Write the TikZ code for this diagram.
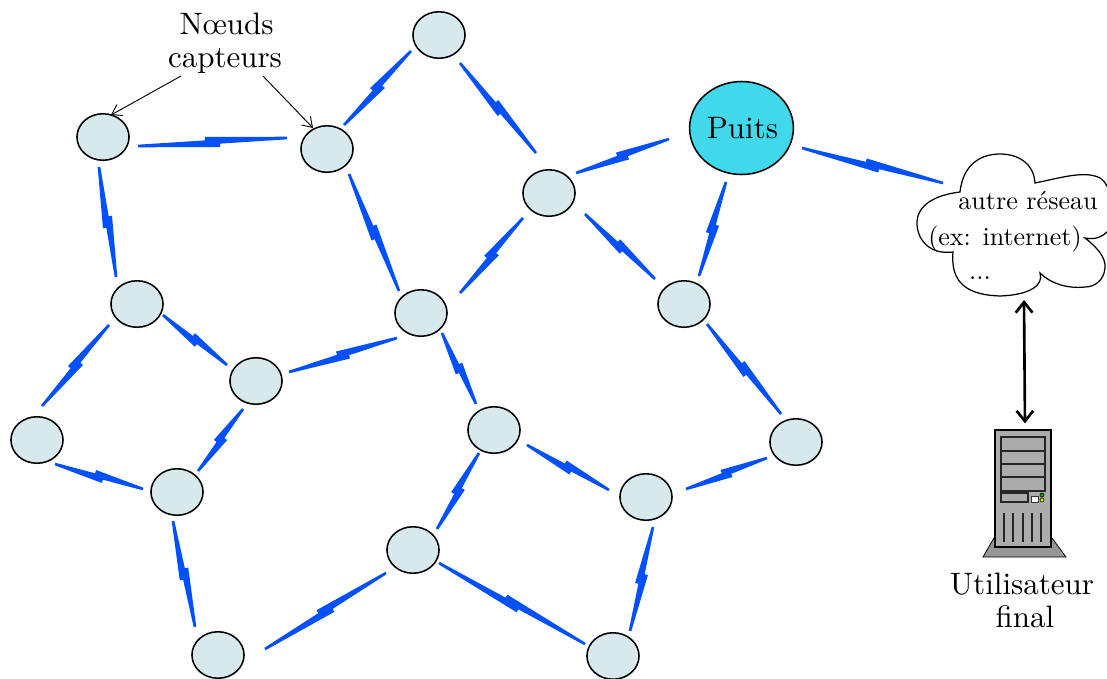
\documentclass[tikz,border=0pt]{standalone}
\usetikzlibrary{shapes.geometric,calc,arrows.meta}
\definecolor{boltblue}{RGB}{0,80,255}
\definecolor{nodefill}{RGB}{216,233,238}
\definecolor{sinkfill}{RGB}{64,216,235}
\definecolor{towerfill}{RGB}{172,172,172}
\definecolor{basefill}{RGB}{150,150,150}
\newcommand{\boltlink}[4]{%
  \coordinate (bA) at ($(#1)+(#2)$);
  \coordinate (bB) at ($(#3)+(#4)$);
  \fill[boltblue]
    ($(bA)!0.42pt!90:(bB)$) --
    ($(bA)!0.45!(bB)!0.65pt!90:(bB)$) --
    ($(bA)!0.45!(bB)!1.75pt!90:(bB)$) --
    ($(bB)!0.42pt!-90:(bA)$) --
    ($(bB)!0.42pt!90:(bA)$) --
    ($(bA)!0.55!(bB)!0.65pt!-90:(bB)$) --
    ($(bA)!0.55!(bB)!1.75pt!-90:(bB)$) --
    ($(bA)!0.42pt!-90:(bB)$) -- cycle;
}
\tikzset{
  sensor/.style={ellipse,draw=black,line width=0.5pt,fill=nodefill,minimum width=16.8pt,minimum height=15pt,inner sep=0pt},
  sink/.style={ellipse,draw=black,line width=0.5pt,fill=sinkfill,minimum width=33.5pt,minimum height=30pt,inner sep=0pt},
  label/.style={inner sep=0pt,align=center},
  cloudtext/.style={inner sep=0pt,scale=0.84},
  thinarrow/.style={line width=0.3pt,-{Straight Barb[length=3pt,width=4pt]}},
  thickarrow/.style={line width=0.85pt,{Straight Barb[length=3.4pt,width=5.4pt]}-{Straight Barb[length=3.4pt,width=5.4pt]}},
  tower/.style={rectangle,draw=black,line width=0.65pt,fill=towerfill,minimum width=18pt,minimum height=37.5pt,inner sep=0pt},
  bay/.style={draw=black!85,line width=0.35pt,fill=towerfill},
  vent/.style={draw=black!85,line width=0.35pt}
}
\begin{document}
\begin{tikzpicture}[x=0.3226pt,y=-0.3226pt]
\useasboundingbox (0,0) rectangle (1107,678);
\clip (0,0) rectangle (1107,678);
% sensor nodes
\node[sensor] (n1) at (439,35) {};
\node[sensor] (n2) at (103,137) {};
\node[sensor] (n3) at (327,149) {};
\node[sensor] (n4) at (549,193) {};
\node[sensor] (n5) at (684,304) {};
\node[sensor] (n6) at (137,304) {};
\node[sensor] (n7) at (421,313) {};
\node[sensor] (n8) at (256,381) {};
\node[sensor] (n9) at (37,440) {};
\node[sensor] (n10) at (177,492) {};
\node[sensor] (n11) at (494,430) {};
\node[sensor] (n12) at (796,442) {};
\node[sensor] (n13) at (646,497) {};
\node[sensor] (n14) at (413,550) {};
\node[sensor] (n15) at (218,655) {};
\node[sensor] (n16) at (613,656) {};
\node[sink] (P) at (741.5,128) {\hspace*{0.6pt}Puits};
\coordinate (cloud) at (1012,225);
% cloud outline
\draw[line width=0.4pt,fill=white]
  (960,192) .. controls (963,165) and (980,154) .. (1000,154)
  .. controls (1020,154) and (1034,165) .. (1035,183)
  .. controls (1060,178) and (1085,170) .. (1100,178)
  .. controls (1114,186) and (1116,225) .. (1107,232)
  .. controls (1102,237) and (1095,240) .. (1085,238)
  .. controls (1098,248) and (1106,258) .. (1105,268)
  .. controls (1104,280) and (1095,287) .. (1085,287)
  .. controls (1067,289) and (1050,283) .. (1040,273)
  .. controls (1044,285) and (1030,295) .. (1000,296)
  .. controls (970,295) and (950,285) .. (953,252)
  .. controls (930,255) and (917,240) .. (917,223)
  .. controls (917,205) and (935,195) .. (960,192) -- cycle;
\node[cloudtext] (t1) at (1028,201) {autre réseau};
\node[cloudtext] (t2) at (1005,239) {(ex: internet)};
\node[cloudtext] (t3) at (980,278) {...};
% bolts
\boltlink{n3}{17,-24}{n1}{-28,16}
\boltlink{n1}{21,28}{n4}{-13,-40}
\boltlink{n2}{35,9}{n3}{-40,-11}
\boltlink{n2}{-4,30}{n6}{-21,-27}
\boltlink{n3}{22,25}{n7}{-22,-22}
\boltlink{n4}{27,-20}{P}{-72.5,11}
\boltlink{n4}{-26,25}{n7}{39,-20}
\boltlink{n4}{36,21}{n5}{-29,-25}
\boltlink{n5}{15,-28}{P}{-15.5,54}
\boltlink{P}{60.5,20}{cloud}{-69,-42}
\boltlink{n5}{23,20}{n12}{-15,-28}
\boltlink{n6}{-28,21}{n9}{5,-34}
\boltlink{n6}{26,11}{n8}{-29,-16}
\boltlink{n8}{33,-9}{n7}{-24,25}
\boltlink{n7}{21,20}{n11}{-18,-26}
\boltlink{n8}{-13,28}{n10}{21,-21}
\boltlink{n9}{18,24}{n10}{-34,-3}
\boltlink{n10}{-4,29}{n15}{-23,-28}
\boltlink{n11}{-15,23}{n14}{24,-21}
\boltlink{n11}{33,15}{n13}{-37,-7}
\boltlink{n13}{40,-8}{n12}{-29,16}
\boltlink{n13}{7,30}{n16}{17,-25}
\boltlink{n14}{-27,23}{n15}{47,-6}
\boltlink{n14}{26,13}{n16}{-28,-12}
% label with arrows
\node[label] (lab) at (225,43) {\hspace*{1pt}N\oe uds\\[-1.3pt]capteurs};
\draw[thinarrow] ($(lab)+(-44,33)$) -- ($(n2)+(8,-22)$);
\draw[thinarrow] ($(lab)+(38,33)$) -- ($(n3)+(-14,-21)$);
% server
\draw[line width=0.25pt,fill=basefill] (994,538) -- (1052,538) -- (1066,557) -- (983,557) -- cycle;
\node[tower] (server) at (1023,488.5) {};
\foreach \y/\h in {437/451,451/464,464/477,477/491}{
  \draw[bay] (1001,\y) rectangle (1045,\h);
}
\draw[bay] (1001,493) rectangle (1028,502);
\draw[draw=black!80,line width=0.3pt,fill=white] (1031,496) rectangle (1038,502);
\draw[line width=0.2pt,fill=green!70!black] (1042,495) circle (2);
\draw[line width=0.2pt,fill=yellow] (1042,500) circle (2);
\foreach \x in {1004,1013,1023,1032,1041}{
  \draw[vent] (\x,513) -- (\x,542);
}
\draw[thickarrow] ($(cloud)+(12,75)$) -- ($(server.north)+(2,-6)$);
\node[label] (user) at (1022,600) {Utilisateur\\[-1.3pt]\hspace*{1.9pt}final};
\end{tikzpicture}
\end{document}
